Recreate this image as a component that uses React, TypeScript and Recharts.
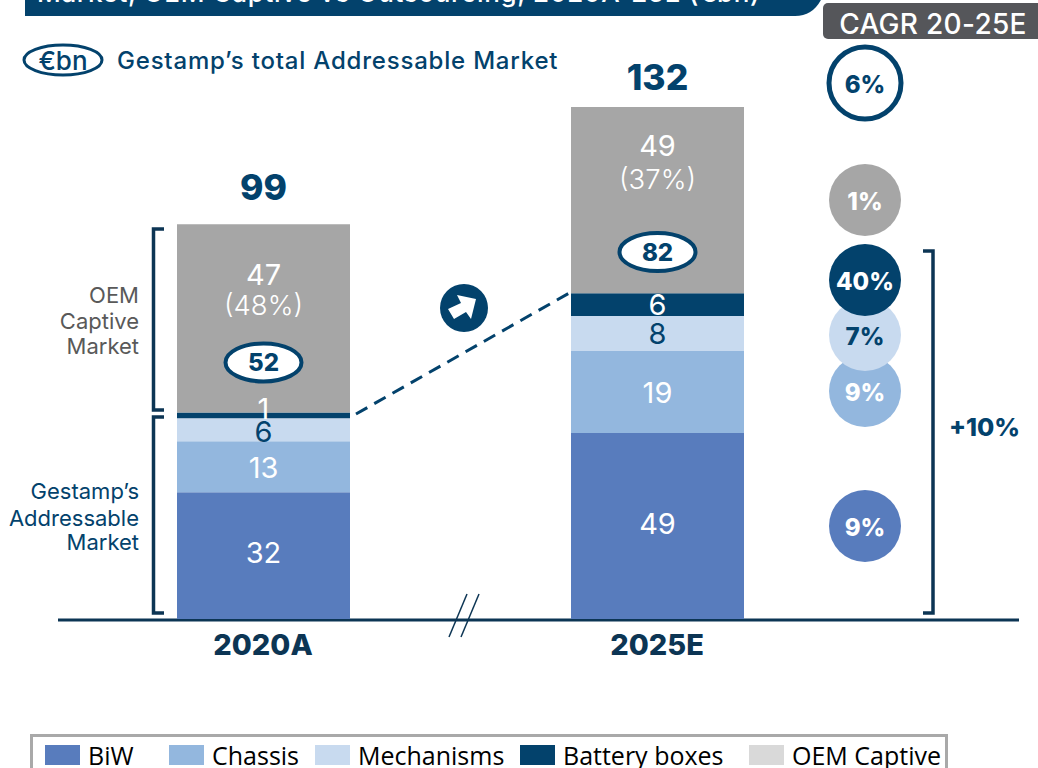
import { Bar, BarChart, LabelList, Legend, XAxis, YAxis } from 'recharts';

const FONT = 'Inter, sans-serif';
const NAVY = '#03426c';
const DARK = '#0c3554';
const GREY_TEXT = '#595959';

const categories = ['2020A', '2025E'];

// Segment heights as drawn (in EUR bn on the axis); the picture is not quite to scale with its printed numbers
const biw = [32.9, 48.1];
const chassis = [13.1, 21.1];
const mechanisms = [5.9, 9.0];
const batteryBoxes = [1.5, 5.9];
const oemCaptive = [48.4, 47.9];

// Printed numbers
const biwLabels = ['32', '49'];
const chassisLabels = ['13', '19'];
const mechanismsLabels = ['6', '8'];
const batteryLabels = ['1', '6'];
const captiveLabels = ['47', '49'];
const captiveShares = ['(48%)', '(37%)'];
const addressable = ['52', '82'];
const totals = ['99', '132'];

const legendNames = ['BiW', 'Chassis', 'Mechanisms', 'Battery boxes', 'OEM Captive'];
const legendColors = ['#587cbd', '#93b7de', '#c8daef', NAVY, '#d9d9d9'];
const legendLeft = [12, 136, 282, 487, 716];

const cagrLabels = ['6%', '1%', '9%', '7%', '40%', '9%'];
const cagrCy = [83, 200, 391, 335, 280, 526];
const cagrFill = ['#ffffff', '#a6a6a6', '#93b7de', '#c8daef', NAVY, '#587cbd'];
const cagrText = [NAVY, '#ffffff', '#ffffff', NAVY, '#ffffff', '#ffffff'];

const chartData = categories.map((name, i) => ({
  name,
  biw: biw[i],
  chassis: chassis[i],
  mechanisms: mechanisms[i],
  batteryBoxes: batteryBoxes[i],
  oemCaptive: oemCaptive[i],
  biwLabel: biwLabels[i],
  chassisLabel: chassisLabels[i],
  mechanismsLabel: mechanismsLabels[i],
  batteryLabel: batteryLabels[i],
}));

function segmentLabel(color: string, dy: number[] = [0, 0]) {
  return (props: any) => {
    const { x, y, width, height, value, index } = props;
    return (
      <text
        x={x + width / 2}
        y={y + height / 2 + dy[index]}
        fill={color}
        fontFamily={FONT}
        fontSize={29}
        textAnchor="middle"
        dominantBaseline="central"
      >
        {value}
      </text>
    );
  };
}

const captiveDy = [
  [-44, -13, 44],
  [-55, -21, 52],
];
const totalDy = [-37, -30];

function CaptiveLabel(props: any) {
  const { x, y, width, height, index } = props;
  const cx = x + width / 2;
  const cy = y + height / 2;
  const [a, b, c] = captiveDy[index];
  return (
    <g fontFamily={FONT} textAnchor="middle">
      <text x={cx} y={y + totalDy[index]} fill={NAVY} fontSize={35.5} fontWeight={800} dominantBaseline="central">
        {totals[index]}
      </text>
      <text x={cx} y={cy + a} fill="#fff" fontSize={29} dominantBaseline="central">
        {captiveLabels[index]}
      </text>
      <text x={cx} y={cy + b} fill="#fff" fontSize={27.5} fontWeight={300} dominantBaseline="central">
        {captiveShares[index]}
      </text>
      <ellipse cx={cx} cy={cy + c} rx={38} ry={19} fill="#fff" stroke={NAVY} strokeWidth={4} />
      <text x={cx} y={cy + c} fill={NAVY} fontSize={24} fontWeight={800} dominantBaseline="central">
        {addressable[index]}
      </text>
    </g>
  );
}

function LegendBox() {
  return (
    <div
      style={{
        position: 'relative',
        width: 918,
        height: 40,
        boxSizing: 'border-box',
        border: '3px solid #a9a9a9',
        borderBottom: 'none',
        fontFamily: '"Open Sans", sans-serif',
        fontSize: 25,
        color: '#000',
        background: '#fff',
      }}
    >
      {legendNames.map((name, i) => (
        <div key={name} style={{ position: 'absolute', left: legendLeft[i], top: 8, display: 'flex', alignItems: 'center', height: 20, whiteSpace: 'nowrap' }}>
          <span style={{ width: 35, height: 20, background: legendColors[i], marginRight: 8 }} />
          <span>{name}</span>
        </div>
      ))}
    </div>
  );
}

function MultilineText({ lines, color, ys }: { lines: string[]; color: string; ys: number[] }) {
  return (
    <g fontFamily={FONT} fontSize={22} fill={color} textAnchor="end">
      {lines.map((line, i) => (
        <text key={line} x={139} y={ys[i]} dominantBaseline="central">
          {line}
        </text>
      ))}
    </g>
  );
}

function Annotations() {
  return (
    <svg width={1038} height={768} style={{ position: 'absolute', left: 0, top: 0, pointerEvents: 'none' }}>
      {/* header banner, cut off by the top of the page */}
      <path d="M25 -10 H825 Q817 16 795 16 H25 Z" fill={NAVY} />
      <text x={37} y={2} fill="#fff" fontFamily={FONT} fontSize={26} fontWeight={500} letterSpacing={0.65}>
        Market, OEM Captive vs Outsourcing, 2020A-25E (€bn)
      </text>
      <rect x={823} y={3} width={230} height={36} rx={5} fill="#55565a" />
      <text x={933} y={24} fill="#fff" fontFamily={FONT} fontSize={28} fontWeight={500} letterSpacing={0.3} textAnchor="middle" dominantBaseline="central">
        CAGR 20-25E
      </text>

      {/* addressable market key */}
      <ellipse cx={63} cy={60} rx={39} ry={15} fill="#fff" stroke={NAVY} strokeWidth={3} />
      <text x={63} y={60} fill={NAVY} fontFamily={FONT} fontSize={26} fontWeight={500} textAnchor="middle" dominantBaseline="central">
        €bn
      </text>
      <text x={117} y={60} fill={NAVY} fontFamily={FONT} fontSize={24} fontWeight={500} letterSpacing={0.8} dominantBaseline="central">
        Gestamp’s total Addressable Market
      </text>

      {/* axis line and break */}
      <line x1={58} x2={1019} y1={620} y2={620} stroke={DARK} strokeWidth={3} />
      <rect x={177} y={617} width={173} height={2} fill="#587cbd" />
      <rect x={571} y={617} width={173} height={2} fill="#587cbd" />
      <line x1={449} y1={637} x2={467} y2={594} stroke={DARK} strokeWidth={1.5} />
      <line x1={461} y1={637} x2={479} y2={594} stroke={DARK} strokeWidth={1.5} />

      {/* brackets */}
      <path d="M164 229 H153.5 V410 H164" fill="none" stroke={DARK} strokeWidth={3.5} />
      <path d="M164 417 H153.5 V613 H164" fill="none" stroke={DARK} strokeWidth={3.5} />
      <path d="M923 251 H933 V613 H923" fill="none" stroke={DARK} strokeWidth={3.5} />

      <MultilineText lines={['OEM', 'Captive', 'Market']} color={GREY_TEXT} ys={[295, 321, 346]} />
      <MultilineText lines={['Gestamp’s', 'Addressable', 'Market']} color={NAVY} ys={[491, 518, 542]} />

      {/* growth arrow */}
      <line x1={356} y1={414} x2={571} y2={292} stroke={NAVY} strokeWidth={3} strokeDasharray="13 8" />
      <circle cx={464} cy={308} r={24} fill={NAVY} />
      <polygon points="476,299 457,295 461,303 448,309 454,319 466,312 471,319" fill="#fff" />

      {/* CAGR bubbles */}
      {cagrLabels.map((label, i) => (
        <g key={i}>
          <circle
            cx={865}
            cy={cagrCy[i]}
            r={36}
            fill={cagrFill[i]}
            stroke={i === 0 ? NAVY : 'none'}
            strokeWidth={i === 0 ? 5 : 0}
          />
          <text x={865} y={cagrCy[i] + 1} fill={cagrText[i]} fontFamily={FONT} fontSize={24} fontWeight={800} textAnchor="middle" dominantBaseline="central">
            {label}
          </text>
        </g>
      ))}
      <text x={984.5} y={427} fill={NAVY} fontFamily={FONT} fontSize={25} fontWeight={800} textAnchor="middle" dominantBaseline="central">
        +10%
      </text>
    </svg>
  );
}

export default function App() {
  return (
    <div style={{ position: 'absolute', left: 0, top: 0, width: 1038, height: 768, overflow: 'hidden', background: '#fff' }}>
      <BarChart
        width={1038}
        height={768}
        data={chartData}
        margin={{ top: 107, right: 184, bottom: 78, left: 66 }}
      >
        <XAxis
          dataKey="name"
          axisLine={false}
          tickLine={false}
          height={30}
          interval={0}
          tickMargin={8}
          tick={{ fill: DARK, fontSize: 29, fontWeight: 800, fontFamily: FONT }}
        />
        <YAxis hide domain={[0, 132]} />
        <Legend
          content={<LegendBox />}
          wrapperStyle={{ left: 30, top: 734, width: 918, height: 40 }}
        />
        <Bar dataKey="biw" stackId="a" fill="#587cbd" barSize={173} isAnimationActive={false}>
          <LabelList dataKey="biwLabel" content={segmentLabel('#fff', [-4, -3])} />
        </Bar>
        <Bar dataKey="chassis" stackId="a" fill="#93b7de" barSize={173} isAnimationActive={false}>
          <LabelList dataKey="chassisLabel" content={segmentLabel('#fff', [1, 0])} />
        </Bar>
        <Bar dataKey="mechanisms" stackId="a" fill="#c8daef" barSize={173} isAnimationActive={false}>
          <LabelList dataKey="mechanismsLabel" content={segmentLabel(NAVY, [2, 0])} />
        </Bar>
        <Bar dataKey="batteryBoxes" stackId="a" fill={NAVY} barSize={173} isAnimationActive={false} />
        <Bar dataKey="oemCaptive" stackId="a" fill="#a6a6a6" barSize={173} isAnimationActive={false}>
          <LabelList dataKey="batteryLabel" content={(p: any) => {
            // battery label sits on the dark band, or just above it when the band is thin
            const bandY = p.y + p.height;
            const bandH = chartData[p.index].batteryBoxes * (513 / 132);
            return segmentLabel('#fff', [-7, 0])({ ...p, y: bandY, height: bandH });
          }} />
          <LabelList dataKey="oemCaptive" content={<CaptiveLabel />} />
        </Bar>
      </BarChart>
      <Annotations />
    </div>
  );
}
